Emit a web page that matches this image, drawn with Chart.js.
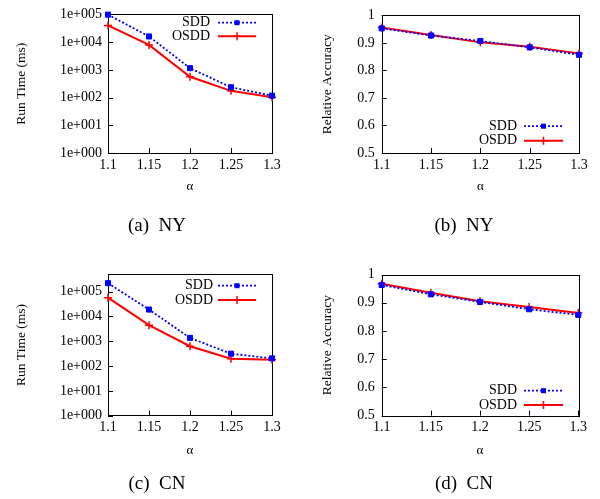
<!DOCTYPE html>
<html>
<head>
<meta charset="utf-8">
<script src="https://cdn.jsdelivr.net/npm/chart.js@4.4.1/dist/chart.umd.min.js"></script>
<style>
  body { margin: 0; background: #fff; }
  #wrap { position: relative; width: 600px; height: 499px; background: #fff; }
  canvas { position: absolute; }
  .cap { position: absolute; font-family: "Liberation Serif", "Times New Roman", serif; font-size: 19px; color: #000; transform: translate(-50%, -50%); white-space: nowrap; }
</style>
</head>
<body>
<div id="wrap">
  <canvas id="cA" width="300" height="250" style="left:0;top:0"></canvas>
  <canvas id="cB" width="300" height="250" style="left:300px;top:0"></canvas>
  <canvas id="cC" width="300" height="249" style="left:0;top:250px"></canvas>
  <canvas id="cD" width="300" height="249" style="left:300px;top:250px"></canvas>
  <div class="cap" style="left:157px;top:225px">(a)&nbsp; NY</div>
  <div class="cap" style="left:464px;top:225px">(b)&nbsp; NY</div>
  <div class="cap" style="left:157px;top:483px">(c)&nbsp; CN</div>
  <div class="cap" style="left:464px;top:483px">(d)&nbsp; CN</div>
</div>
<script>
// x categories
const alpha = ['1.1', '1.15', '1.2', '1.25', '1.3'];

// NY
const nyTimeSDD  = [98000, 16000, 1150, 235, 117];
const nyTimeOSDD = [40000, 7900, 560, 175, 102];
const nyAccSDD   = [0.953, 0.927, 0.907, 0.884, 0.857];
const nyAccOSDD  = [0.956, 0.929, 0.902, 0.886, 0.862];

// CN
const cnTimeSDD  = [220000, 19000, 1370, 316, 204];
const cnTimeOSDD = [57000, 4450, 630, 198, 180];
const cnAccSDD   = [0.963, 0.930, 0.903, 0.877, 0.857];
const cnAccOSDD  = [0.967, 0.935, 0.905, 0.885, 0.864];

// ticks
const timeTicks = [1, 10, 100, 1000, 10000, 100000];
const timeTickLabels = ['1e+000', '1e+001', '1e+002', '1e+003', '1e+004', '1e+005'];
const accTicks = [0.5, 0.6, 0.7, 0.8, 0.9, 1];
const accTickLabels = ['0.5', '0.6', '0.7', '0.8', '0.9', '1'];

const FONT = '"Liberation Serif", "Times New Roman", serif';
Chart.defaults.font.family = FONT;
Chart.defaults.font.size = 14;
Chart.defaults.color = '#000';

const BLUE = '#0000ff';
const RED = '#ff0000';

// gnuplot-like frame, inward ticks and key
const gnuFrame = {
  id: 'gnuFrame',
  beforeDatasetsDraw(chart) {
    const { ctx, chartArea: a, scales } = chart;
    ctx.save();
    ctx.strokeStyle = '#000';
    ctx.lineWidth = 1;
    ctx.strokeRect(Math.round(a.left) + 0.5, Math.round(a.top) + 0.5,
      Math.round(a.right - a.left), Math.round(a.bottom - a.top));
    ctx.beginPath();
    scales.y.ticks.forEach(t => {
      const y = Math.round(scales.y.getPixelForValue(t.value)) + 0.5;
      ctx.moveTo(a.left, y); ctx.lineTo(a.left + 5, y);
    });
    scales.x.ticks.forEach((t, i) => {
      const x = Math.round(scales.x.getPixelForTick(i)) + 0.5;
      ctx.moveTo(x, a.bottom); ctx.lineTo(x, a.bottom - 5);
    });
    ctx.stroke();
    ctx.restore();
  },
  afterDatasetsDraw(chart, args, opts) {
    const { ctx } = chart;
    ctx.save();
    ctx.font = '14px ' + FONT;
    ctx.textAlign = 'right';
    ctx.textBaseline = 'middle';
    chart.data.datasets.forEach((ds, i) => {
      const y = opts.y + i * opts.gap;
      ctx.fillStyle = '#000';
      ctx.fillText(ds.label, opts.textX, y);
      ctx.strokeStyle = ds.borderColor;
      ctx.lineWidth = ds.borderWidth;
      ctx.setLineDash(ds.borderDash || []);
      ctx.beginPath();
      ctx.moveTo(opts.x1, y); ctx.lineTo(opts.x2, y);
      ctx.stroke();
      ctx.setLineDash([]);
      const cx = (opts.x1 + opts.x2) / 2;
      if (ds.pointStyle === 'rect') {
        ctx.fillStyle = ds.borderColor;
        ctx.fillRect(cx - 2.5, y - 2.5, 5, 5);
      } else {
        ctx.lineWidth = 1.5;
        ctx.beginPath();
        ctx.moveTo(cx - 4, y); ctx.lineTo(cx + 4, y);
        ctx.moveTo(cx, y - 4); ctx.lineTo(cx, y + 4);
        ctx.stroke();
      }
    });
    ctx.restore();
  }
};

function makeChart(id, sdd, osdd, yCfg, lay, key) {
  new Chart(document.getElementById(id), {
    type: 'line',
    data: {
      labels: alpha,
      datasets: [
        {
          label: 'SDD', data: sdd,
          borderColor: BLUE, backgroundColor: BLUE,
          borderWidth: 1.8, borderDash: [2, 2],
          pointStyle: 'rect', pointRadius: 3.6, pointBorderWidth: 1,
          tension: 0, clip: false
        },
        {
          label: 'OSDD', data: osdd,
          borderColor: RED, backgroundColor: RED,
          borderWidth: 2,
          pointStyle: 'cross', pointRadius: 4, pointBorderWidth: 1.5,
          tension: 0, clip: false
        }
      ]
    },
    options: {
      responsive: false,
      animation: false,
      layout: { padding: { left: 0, right: lay.right, top: lay.top, bottom: lay.bottom } },
      plugins: { legend: { display: false }, tooltip: { enabled: false }, gnuFrame: key },
      scales: {
        x: {
          type: 'category',
          grid: { display: false, drawTicks: false },
          border: { display: false },
          ticks: { padding: 3.5, maxRotation: 0, autoSkip: false },
          title: { display: true, text: 'α', padding: 0, font: { size: 13 } },
          afterFit: s => { s.height = lay.xh; }
        },
        y: Object.assign({
          grid: { display: false, drawTicks: false },
          border: { display: false },
          title: { display: true, text: yCfg.title, padding: { top: lay.tpad, bottom: 0 }, font: { size: 13.5 } },
          afterFit: s => { s.width = lay.yw; }
        }, yCfg.scale)
      }
    },
    plugins: [gnuFrame]
  });
}

const timeScale = (max) => ({
  type: 'logarithmic', min: 1, max: max,
  afterBuildTicks: s => { s.ticks = timeTicks.map(v => ({ value: v })); },
  ticks: { padding: 6, callback: (v, i) => timeTickLabels[i] }
});
const accScale = () => ({
  type: 'linear', min: 0.5, max: 1,
  afterBuildTicks: s => { s.ticks = accTicks.map(v => ({ value: v })); },
  ticks: { padding: 7, callback: (v, i) => accTickLabels[i] }
});

makeChart('cA', nyTimeSDD, nyTimeOSDD,
  { title: 'Run Time (ms)', scale: timeScale(100000) },
  { right: 28, top: 10.7, bottom: 55.2, xh: 41.8, yw: 108, tpad: 13 },
  { textX: 210, x1: 218, x2: 256, y: 22.7, gap: 13.5 });

makeChart('cB', nyAccSDD, nyAccOSDD,
  { title: 'Relative Accuracy', scale: accScale() },
  { right: 21, top: 10.7, bottom: 55.2, xh: 41.8, yw: 81.7, tpad: 19 },
  { textX: 217, x1: 224, x2: 263, y: 126.2, gap: 14.5 });

makeChart('cC', cnTimeSDD, cnTimeOSDD,
  { title: 'Run Time (ms)', scale: timeScale(500000) },
  { right: 28, top: 24.3, bottom: 40.2, xh: 43.1, yw: 108, tpad: 13 },
  { textX: 213, x1: 218, x2: 256, y: 35.7, gap: 14.3 });

makeChart('cD', cnAccSDD, cnAccOSDD,
  { title: 'Relative Accuracy', scale: accScale() },
  { right: 21.7, top: 24.5, bottom: 40.2, xh: 43.1, yw: 81.7, tpad: 19 },
  { textX: 217, x1: 224, x2: 263, y: 140.7, gap: 14.3 });
</script>
</body>
</html>
